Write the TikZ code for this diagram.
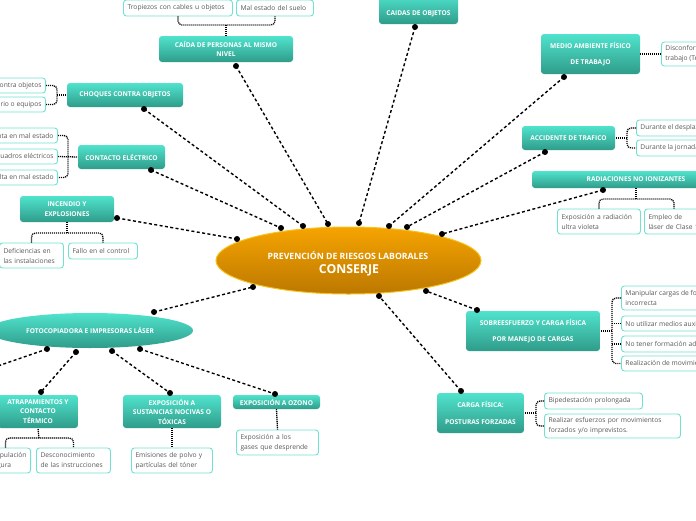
\documentclass[tikz,border=0pt]{standalone}
\usepackage{fontspec}
\setmainfont{Open Sans}
\usetikzlibrary{shapes.geometric}
\definecolor{tealtop}{HTML}{50E3CD}
\definecolor{tealbot}{HTML}{2F9C8A}
\definecolor{leafline}{HTML}{6FE2D1}
\definecolor{leaftext}{HTML}{5A5A5A}
\definecolor{orgtop}{HTML}{F6A400}
\definecolor{orgbot}{HTML}{BC7800}
\definecolor{orgline}{HTML}{F7C21A}
\tikzset{
  topic/.style={rounded corners=3pt, top color=tealtop, bottom color=tealbot, draw=none, text=white,
    font=\bfseries\fontsize{6.6}{9.5}\selectfont, align=center, inner sep=0pt},
  topictext/.style={text=white, font=\bfseries\fontsize{6.6}{9.5}\selectfont, inner sep=0pt},
  leaf/.style={draw=leafline, line width=0.9pt, fill=white, rounded corners=3pt, text=leaftext,
    font=\fontsize{6.7}{10}\selectfont, align=left, inner xsep=4pt, inner ysep=0pt},
  mainline/.style={line width=1.4pt, dash pattern=on 3pt off 2.4pt},
  subline/.style={line width=1.3pt, dash pattern=on 1.1pt off 0.9pt, rounded corners=4pt},
}
\begin{document}
\begin{tikzpicture}[x=1pt,y=-1pt]
\useasboundingbox (0,0) rectangle (696,520);
\clip (0,0) rectangle (696,520);

% ---- connector end points
\coordinate (a1) at (236,66);  \coordinate (b1) at (328,224);
\coordinate (a2) at (144,109); \coordinate (b2) at (303,226);
\coordinate (a3) at (151,170); \coordinate (b3) at (281,228);
\coordinate (a4) at (117,218); \coordinate (b4) at (237,239);
\coordinate (a5) at (415,27);  \coordinate (b5) at (359,223);
\coordinate (a6) at (564,77);  \coordinate (b6) at (389,226);
\coordinate (a7) at (545,152); \coordinate (b7) at (407,227);
\coordinate (a8) at (603,190); \coordinate (b8) at (442,234);
\coordinate (a9) at (154,312); \coordinate (b9) at (253,287);
\coordinate (a10) at (477,310); \coordinate (b10) at (426,291);
\coordinate (a11) at (461,391); \coordinate (b11) at (379,296);
\coordinate (f1) at (47,349);  \coordinate (g1) at (-5,367);
\coordinate (f2) at (76,352);  \coordinate (g2) at (41,392);
\coordinate (f3) at (112,351); \coordinate (g3) at (170,393);
\coordinate (f4) at (140,349); \coordinate (g4) at (275,394);

\foreach \i in {1,...,11} {\draw[mainline] (a\i) -- (b\i);}
\foreach \i in {1,...,4} {\draw[mainline] (f\i) -- (g\i);}

% ---- central topic
\node[ellipse, minimum width=265, minimum height=67, top color=orgtop, bottom color=orgbot,
  draw=orgline, line width=1pt, inner sep=0pt] (center) at (348.5,260.5) {};
\node[text=white, font=\bfseries\fontsize{8.7}{9}\selectfont, inner sep=0pt] (ctitle) at (348,255) {PREVENCIÓN DE RIESGOS LABORALES};
\node[text=white, font=\bfseries\fontsize{12.3}{13}\selectfont, inner sep=0pt] (csub) at (349,270.5) {CONSERJE};

% ---- main topics
\node[topic, minimum width=134, minimum height=26] (caidaP) at (226,49) {CAÍDA DE PERSONAS AL MISMO\\NIVEL};
\node[topic, minimum width=79, minimum height=30] (caidaO) at (418.5,9) {};
\node[topictext] (caidaOt) at (418.5,14) {CAIDAS DE OBJETOS};
\node[topic, minimum width=116, minimum height=24] (choques) at (125,95) {CHOQUES CONTRA OBJETOS};
\node[topic, minimum width=87, minimum height=24] (contacto) at (121.5,157) {CONTACTO ELÉCTRICO};
\node[topic, minimum width=94, minimum height=26] (incendio) at (67,209) {INCENDIO Y\\EXPLOSIONES};
\node[topic, minimum width=99, minimum height=40, font=\bfseries\fontsize{6.6}{16}\selectfont] (medio) at (590.5,54) {MEDIO AMBIENTE FÍSICO\\DE TRABAJO};
\node[topic, minimum width=93, minimum height=24] (accid) at (568.5,138) {ACCIDENTE DE TRAFICO};
\node[topic, minimum width=208, minimum height=17] (radiac) at (636,179.5) {RADIACIONES NO IONIZANTES};
\node[ellipse, minimum width=206, minimum height=35, top color=tealtop, bottom color=tealbot, inner sep=0pt,
  text=white, font=\bfseries\fontsize{6.6}{9.5}\selectfont] (foto) at (90,330.5) {FOTOCOPIADORA E IMPRESORAS LÁSER};
\node[topic, minimum width=80, minimum height=33] (atrap) at (38,411.5) {ATRAPAMIENTOS Y\\CONTACTO\\TÉRMICO};
\node[topic, minimum width=98, minimum height=33] (sust) at (172,411.5) {EXPOSICIÓN A\\SUSTANCIAS NOCIVAS O\\TÓXICAS};
\node[topic, minimum width=87, minimum height=14] (ozono) at (276.5,402) {EXPOSICIÓN A OZONO};
\node[topic, minimum width=134, minimum height=40, font=\bfseries\fontsize{6.6}{16}\selectfont] (sobre) at (533,331) {SOBREESFUERZO Y CARGA FÍSICA\\POR MANEJO DE CARGAS};
\node[topic, minimum width=87, minimum height=40, font=\bfseries\fontsize{6.6}{17}\selectfont] (cargaF) at (480.5,413) {CARGA FÍSICA:\\POSTURAS FORZADAS};

% ---- leaves
\node[leaf, text width=101, minimum height=16] (trop) at (178,8) {Tropiezos con cables u objetos};
\node[leaf, text width=69, minimum height=16] (mal) at (275,8) {Mal estado del suelo};
\node[leaf, anchor=east, minimum height=15] (golpes) at (46,85.5) {Golpes contra objetos};
\node[leaf, anchor=east, minimum height=15] (mob) at (46,104.5) {Golpes con mobiliario o equipos};
\node[leaf, anchor=east, minimum height=15] (c1) at (58,135.5) {Herramienta en mal estado};
\node[leaf, anchor=east, minimum height=15] (c2) at (58,156.5) {Manipulación de cuadros eléctricos};
\node[leaf, anchor=east, minimum height=15] (c3) at (58,177.5) {Clavija suelta en mal estado};
\node[leaf, text width=56, minimum height=25] (defic) at (31.5,255.5) {Deficiencias en\\las instalaciones};
\node[leaf, text width=61, minimum height=16] (fallo) at (103,251) {Fallo en el control};
\node[leaf, anchor=west, minimum height=24] (disc) at (661,54) {Disconfort en el puesto de\\trabajo (Temperatura, ruido...)};
\node[leaf, anchor=west, minimum height=16] (desp) at (636,128) {Durante el desplazamiento};
\node[leaf, anchor=west, minimum height=16] (jorn) at (636,148) {Durante la jornada laboral};
\node[leaf, text width=75, minimum height=25] (expoR) at (599,221.5) {Exposición a radiación\\ultra violeta};
\node[leaf, text width=51, minimum height=25] (empleo) at (674,221.5) {Empleo de\\láser de Clase 1};
\node[leaf, anchor=east, minimum height=25] (manip) at (31,460.5) {Manipulación\\insegura};
\node[leaf, text width=66, minimum height=25] (desc) at (73.5,460.5) {Desconocimiento\\de las instrucciones};
\node[leaf, text width=73, minimum height=25] (emis) at (172,460.5) {Emisiones de polvo y\\partículas del tóner};
\node[leaf, text width=74, minimum height=25] (gases) at (277.5,442.5) {Exposición a los\\gases que desprende};
\node[leaf, anchor=west, minimum height=24] (mcargas) at (621,298) {Manipular cargas de forma\\incorrecta};
\node[leaf, anchor=west, minimum height=15] (noutil) at (621,323.5) {No utilizar medios auxiliares};
\node[leaf, anchor=west, minimum height=16] (noform) at (621,344) {No tener formación adecuada};
\node[leaf, anchor=west, minimum height=15] (realiz) at (621,363.5) {Realización de movimientos repetitivos};
\node[leaf, text width=90, minimum height=16] (biped) at (593.5,401) {Bipedestación prolongada};
\node[leaf, text width=128, minimum height=24] (realizar) at (612.5,426) {Realizar esfuerzos por movimientos\\forzados y/o imprevistos.};

% ---- sub connectors
\coordinate (cpj) at (226,25);
\draw[subline] (trop.south) |- (cpj) -| (mal.south);
\draw[subline] (cpj) -- (caidaP.north);
\coordinate (chj) at (57,95);
\draw[subline] (golpes.east) -| (chj) |- (mob.east);
\draw[subline] (chj) -- (choques.west);
\coordinate (coj) at (68,157);
\draw[subline] (c1.east) -| (coj) |- (c3.east);
\draw[subline] (c2.east) -- (contacto.west);
\coordinate (inj) at (67,233);
\draw[subline] (defic.north) |- (inj) -| (fallo.north);
\draw[subline] (inj) -- (incendio.south);
\draw[subline] (medio.east) -- (disc.west);
\coordinate (acj) at (627,138);
\draw[subline] (desp.west) -| (acj) |- (jorn.west);
\draw[subline] (acj) -- (accid.east);
\coordinate (raj) at (636,199);
\draw[subline] (expoR.north) |- (raj) -| (empleo.north);
\draw[subline] (raj) -- (radiac.south);
\coordinate (atj) at (39,438);
\draw[subline] (manip.north) |- (atj) -| (desc.north);
\draw[subline] (atj) -- (atrap.south);
\draw[subline] (sust.south) -- (emis.north);
\draw[subline] (ozono.south) -- (gases.north);
\coordinate (soj) at (612,331);
\draw[subline] (mcargas.west) -| (soj) |- (realiz.west);
\draw[subline] (noutil.west) -- (noutil.west -| soj);
\draw[subline] (noform.west) -- (noform.west -| soj);
\draw[subline] (soj) -- (sobre.east);
\coordinate (caj) at (536,413);
\draw[subline] (biped.west) -| (caj) |- (realizar.west);
\draw[subline] (caj) -- (cargaF.east);

% ---- dots
\foreach \i in {1,...,11} {\fill (a\i) circle (3); \fill (b\i) circle (3);}
\foreach \i in {1,...,4} {\fill (f\i) circle (3); \fill (g\i) circle (3);}
\end{tikzpicture}
\end{document}
